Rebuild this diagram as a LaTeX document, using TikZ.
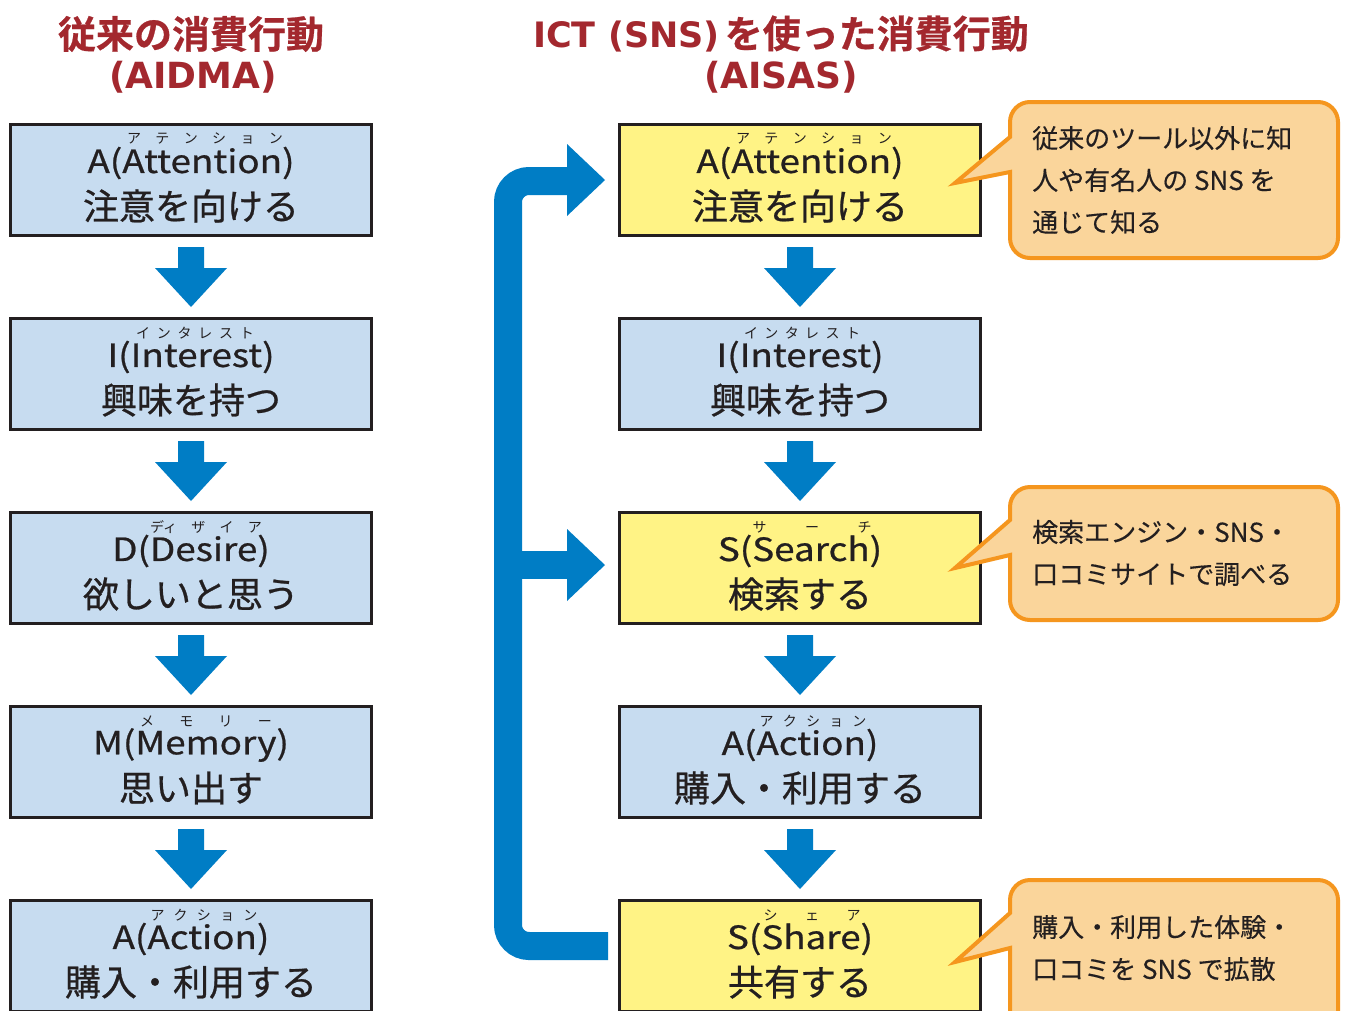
\documentclass[tikz,border=0pt]{standalone}
\usepackage{fontspec}
\setmainfont{Noto Sans CJK JP}
\newfontfamily\boxjp{Noto Sans CJK JP}[FakeBold=0.7]
\newfontfamily\boxlat{Noto Sans CJK JP}[FakeBold=0.7, FakeStretch=1.15]
\newfontfamily\titlejp{Noto Sans CJK JP Bold}[FakeBold=0.6]
\newfontfamily\titlelat{DejaVu Sans Bold}
\newfontfamily\calljp{Noto Sans CJK JP}[FakeBold=0.3]
\usetikzlibrary{calc}
\definecolor{boxblue}{RGB}{199,220,240}
\definecolor{boxyellow}{RGB}{255,243,133}
\definecolor{arrowblue}{RGB}{0,125,197}
\definecolor{callfill}{RGB}{250,213,155}
\definecolor{calledge}{RGB}{245,150,30}
\definecolor{titlered}{RGB}{163,40,46}
\definecolor{ink}{RGB}{35,31,32}
\newcommand\stage[8]{%
  \node[box,#3] (#1) at (#2) {};
  \node[rubytxt] (#1r) at ($(#1.center)+(#4,-41)$) {\makebox[#5pt]{#6}};
  \node[latin] (#1a) at ($(#1.center)+(0,-17)$) {#7};
  \node[jp] (#1b) at ($(#1.center)+(0,26)$) {#8};
}
\newcommand\dnarrow[2]{%
  \fill[arr] ($(#1.south)+(-13,11.5)$) -- ($(#1.south)+(13,11.5)$) -- ($(#1.south)+(13,32.5)$)
    -- ($(#1.south)+(36,32.5)$) -- ($(#2.north)+(0,-11.5)$) -- ($(#1.south)+(-36,32.5)$)
    -- ($(#1.south)+(-13,32.5)$) -- cycle;
}
\newcommand\callshape[5]{%
  \draw[callout] (1010,#4) -- (1010,#2-20) arc (180:90:20) -- (1318,#2) arc (90:0:20)
    -- (1338,#1+20) arc (0:-90:20) -- (1030,#1) arc (-90:-180:20) -- (1010,#3) -- (955,#5) -- cycle;
}
\begin{document}
\begin{tikzpicture}[x=1pt,y=-1pt,
  box/.style={draw=ink, line width=3pt, minimum width=361pt, minimum height=111pt, outer sep=0pt, inner sep=0pt},
  bluebox/.style={fill=boxblue},
  yelbox/.style={fill=boxyellow},
  rubytxt/.style={font=\fontsize{14}{14}\selectfont, text=ink, inner sep=0pt},
  latin/.style={font=\boxlat\fontsize{32}{32}\selectfont, text=ink, inner sep=0pt},
  jp/.style={font=\boxjp\fontsize{36}{36}\selectfont, text=ink, inner sep=0pt},
  title/.style={font=\fontsize{38}{38}\selectfont, text=titlered, inner sep=0pt},
  calltext/.style={font=\calljp\fontsize{26}{42}\selectfont, text=ink, align=left, anchor=west, inner sep=0pt},
  callout/.style={fill=callfill, draw=calledge, line width=4pt, line join=miter},
  arr/.style={fill=arrowblue},
  pipe/.style={draw=arrowblue, line width=28pt, rounded corners=21pt}]
\clip (0,0) rectangle (1346,1010);
\fill[white] (0,0) rectangle (1346,1010);

% titles
\node[title] (t1a) at (191,34) {\titlejp 従来の消費行動};
\node[title] (t1b) at (193,77) {\titlelat\fontsize{36}{36}\selectfont (AIDMA)};
\node[title] (t2a) at (781,34) {\titlelat\fontsize{35}{35}\selectfont ICT (SNS)\hspace{5pt}\titlejp\fontsize{38}{38}\selectfont を使った消費行動};
\node[title] (t2b) at (781,77) {\titlelat\fontsize{36}{36}\selectfont (AISAS)};

% left column (AIDMA)
\stage{L1}{191,180}{bluebox}{14}{156}{ア\hfill テ\hfill ン\hfill シ\hfill ョ\hfill ン}{A(Attention)}{注意を向ける}
\stage{L2}{191,374}{bluebox}{4}{118}{イ\hfill ン\hfill タ\hfill レ\hfill ス\hfill ト}{I(Interest)}{興味を持つ}
\stage{L3}{191,568}{bluebox}{15}{112}{ディ\hfill ザ\hfill イ\hfill ア}{D(Desire)}{欲しいと思う}
\stage{L4}{191,762}{bluebox}{15}{132}{メ\hfill モ\hfill リ\hfill ー}{M(Memory)}{思い出す}
\stage{L5}{191,956}{bluebox}{13}{107}{ア\hfill ク\hfill シ\hfill ョ\hfill ン}{A(Action)}{購入・利用する}

% right column (AISAS)
\stage{R1}{800,180}{yelbox}{14}{156}{ア\hfill テ\hfill ン\hfill シ\hfill ョ\hfill ン}{A(Attention)}{注意を向ける}
\stage{R2}{800,374}{bluebox}{2}{116}{イ\hfill ン\hfill タ\hfill レ\hfill ス\hfill ト}{I(Interest)}{興味を持つ}
\stage{R3}{800,568}{yelbox}{12}{119}{サ\hfill ー\hfill チ}{S(Search)}{検索する}
\stage{R4}{800,762}{bluebox}{13}{107}{ア\hfill ク\hfill シ\hfill ョ\hfill ン}{A(Action)}{購入・利用する}
\stage{R5}{800,956}{yelbox}{12}{97}{シ\hfill ェ\hfill ア}{S(Share)}{共有する}

% down arrows
\dnarrow{L1}{L2}\dnarrow{L2}{L3}\dnarrow{L3}{L4}\dnarrow{L4}{L5}
\dnarrow{R1}{R2}\dnarrow{R2}{R3}\dnarrow{R3}{R4}\dnarrow{R4}{R5}

% feedback pipe
\draw[pipe] ($(R5.west)+(-11.5,-10)$) -- ($(R5.west)+(-111.5,-10)$) -- ($(R1.west)+(-111.5,1)$) -- ($(R1.west)+(-50,1)$);
\draw[draw=arrowblue, line width=28pt] ($(R3.west)+(-111.5,-3)$) -- ($(R3.west)+(-50,-3)$);
\fill[arr] ($(R1.west)+(-52.5,-36)$) -- ($(R1.west)+(-14.5,0)$) -- ($(R1.west)+(-52.5,36)$) -- cycle;
\fill[arr] ($(R3.west)+(-52.5,-39)$) -- ($(R3.west)+(-14.5,-3)$) -- ($(R3.west)+(-52.5,33)$) -- cycle;

% callouts
\callshape{102}{258}{137}{172}{183}
\callshape{487}{620}{520}{555}{568}
\callshape{880}{1040}{913}{948}{962}
\node[calltext] (c1) at (1032,180) {従来のツール以外に知\\人や有名人の SNS を\\通じて知る};
\node[calltext] (c2) at (1032,553) {検索エンジン・SNS・\\口コミサイトで調べる};
\node[calltext] (c3) at (1032,948) {購入・利用した体験・\\口コミを SNS で拡散};
\end{tikzpicture}
\end{document}
